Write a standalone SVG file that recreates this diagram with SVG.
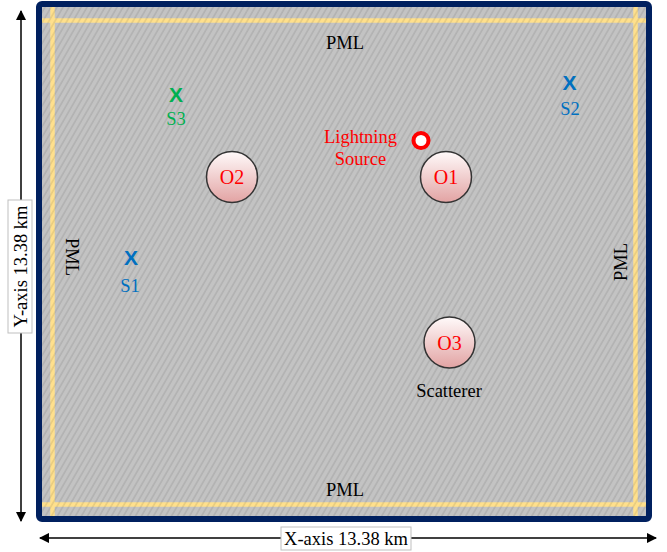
<svg xmlns="http://www.w3.org/2000/svg" width="667" height="552" viewBox="0 0 667 552">
<style>
.t{font-family:"Liberation Serif","Times New Roman",serif;font-size:18.5px;text-anchor:middle}
.blk{fill:#000}
.red{fill:#FF0000}
.blue{fill:#0070C0}
.green{fill:#00B050}
.x{font-family:"Liberation Sans",Arial,sans-serif;font-weight:bold;font-size:21px;text-anchor:middle}
.obj{fill:url(#og);stroke:#333;stroke-width:1.5}
.pml{stroke:#FFE08C;stroke-width:4.5;fill:none}
.axis{stroke:#000;stroke-width:1.5;fill:none;marker-start:url(#ah);marker-end:url(#ah)}
.lbl{fill:#fff;stroke:#BFBFBF;stroke-width:1}
</style>
<defs>
<pattern id="hatch" width="5.2" height="5.2" patternUnits="userSpaceOnUse" patternTransform="rotate(30)">
<line x1="1" y1="0" x2="1" y2="5.2" stroke="#000" stroke-opacity="0.09" stroke-width="1.6"/>
</pattern>
<linearGradient id="og" x1="0" y1="0" x2="0" y2="1">
<stop offset="0" stop-color="#FFFAFA"/>
<stop offset="1" stop-color="#E2A3A3"/>
</linearGradient>
<marker id="ah" viewBox="0 0 10 10" refX="9" refY="5" markerWidth="7" markerHeight="7" orient="auto-start-reverse" markerUnits="strokeWidth">
<path d="M0,0 L10,5 L0,10 Z" fill="#000"/>
</marker>
</defs>
<rect width="667" height="552" fill="#fff"/>
<g id="domain">
<rect x="39" y="4" width="610" height="515" fill="#C3C3C3"/>
<line class="pml" x1="52.5" y1="7" x2="52.5" y2="516"/>
<line class="pml" x1="635.5" y1="7" x2="635.5" y2="516"/>
<line class="pml" x1="42" y1="20.5" x2="646" y2="20.5"/>
<line class="pml" x1="42" y1="504.5" x2="646" y2="504.5"/>
<rect x="39" y="4" width="610" height="515" fill="url(#hatch)"/>
<rect x="39" y="4" width="610" height="515" rx="3" fill="none" stroke="#00205F" stroke-width="6"/>
</g>
<g id="connectors">
<line class="axis" x1="21" y1="11" x2="21" y2="521"/>
<line class="axis" x1="40" y1="538" x2="656" y2="538"/>
</g>
<g id="y-label">
<rect class="lbl" x="8" y="200" width="24" height="133"/>
<text class="t blk" transform="translate(26.5,266.5) rotate(-90)">Y-axis 13.38 km</text>
</g>
<g id="x-label">
<rect class="lbl" x="281" y="527" width="130" height="23"/>
<text class="t blk" x="346" y="545">X-axis 13.38 km</text>
</g>
<g id="pml-top"><text class="t blk" x="345" y="48.5">PML</text></g>
<g id="pml-bottom"><text class="t blk" x="345" y="496">PML</text></g>
<g id="pml-left"><text class="t blk" transform="translate(66,257) rotate(90)">PML</text></g>
<g id="pml-right"><text class="t blk" transform="translate(626.5,262) rotate(-90)">PML</text></g>
<g id="S1">
<text class="x blue" x="131" y="265">X</text>
<text class="t blue" x="130" y="292">S1</text>
</g>
<g id="S2">
<text class="x blue" x="569.5" y="90">X</text>
<text class="t blue" x="570" y="115">S2</text>
</g>
<g id="S3">
<text class="x green" x="176" y="102">X</text>
<text class="t green" x="176" y="125">S3</text>
</g>
<g id="lightning">
<circle cx="421" cy="140.5" r="7.5" fill="#fff" stroke="#FF0000" stroke-width="4"/>
<text class="t red" x="360.5" y="143">Lightning</text>
<text class="t red" x="360.5" y="165">Source</text>
</g>
<g id="O1">
<circle class="obj" cx="446" cy="177" r="25.5"/>
<text class="t red" x="446" y="184" style="font-size:20px">O1</text>
</g>
<g id="O2">
<circle class="obj" cx="232" cy="177" r="25.5"/>
<text class="t red" x="232" y="184" style="font-size:20px">O2</text>
</g>
<g id="O3">
<circle class="obj" cx="449.5" cy="342.5" r="25.5"/>
<text class="t red" x="449.5" y="349.5" style="font-size:20px">O3</text>
</g>
<g id="scatterer"><text class="t blk" x="449" y="397">Scatterer</text></g>
</svg>
